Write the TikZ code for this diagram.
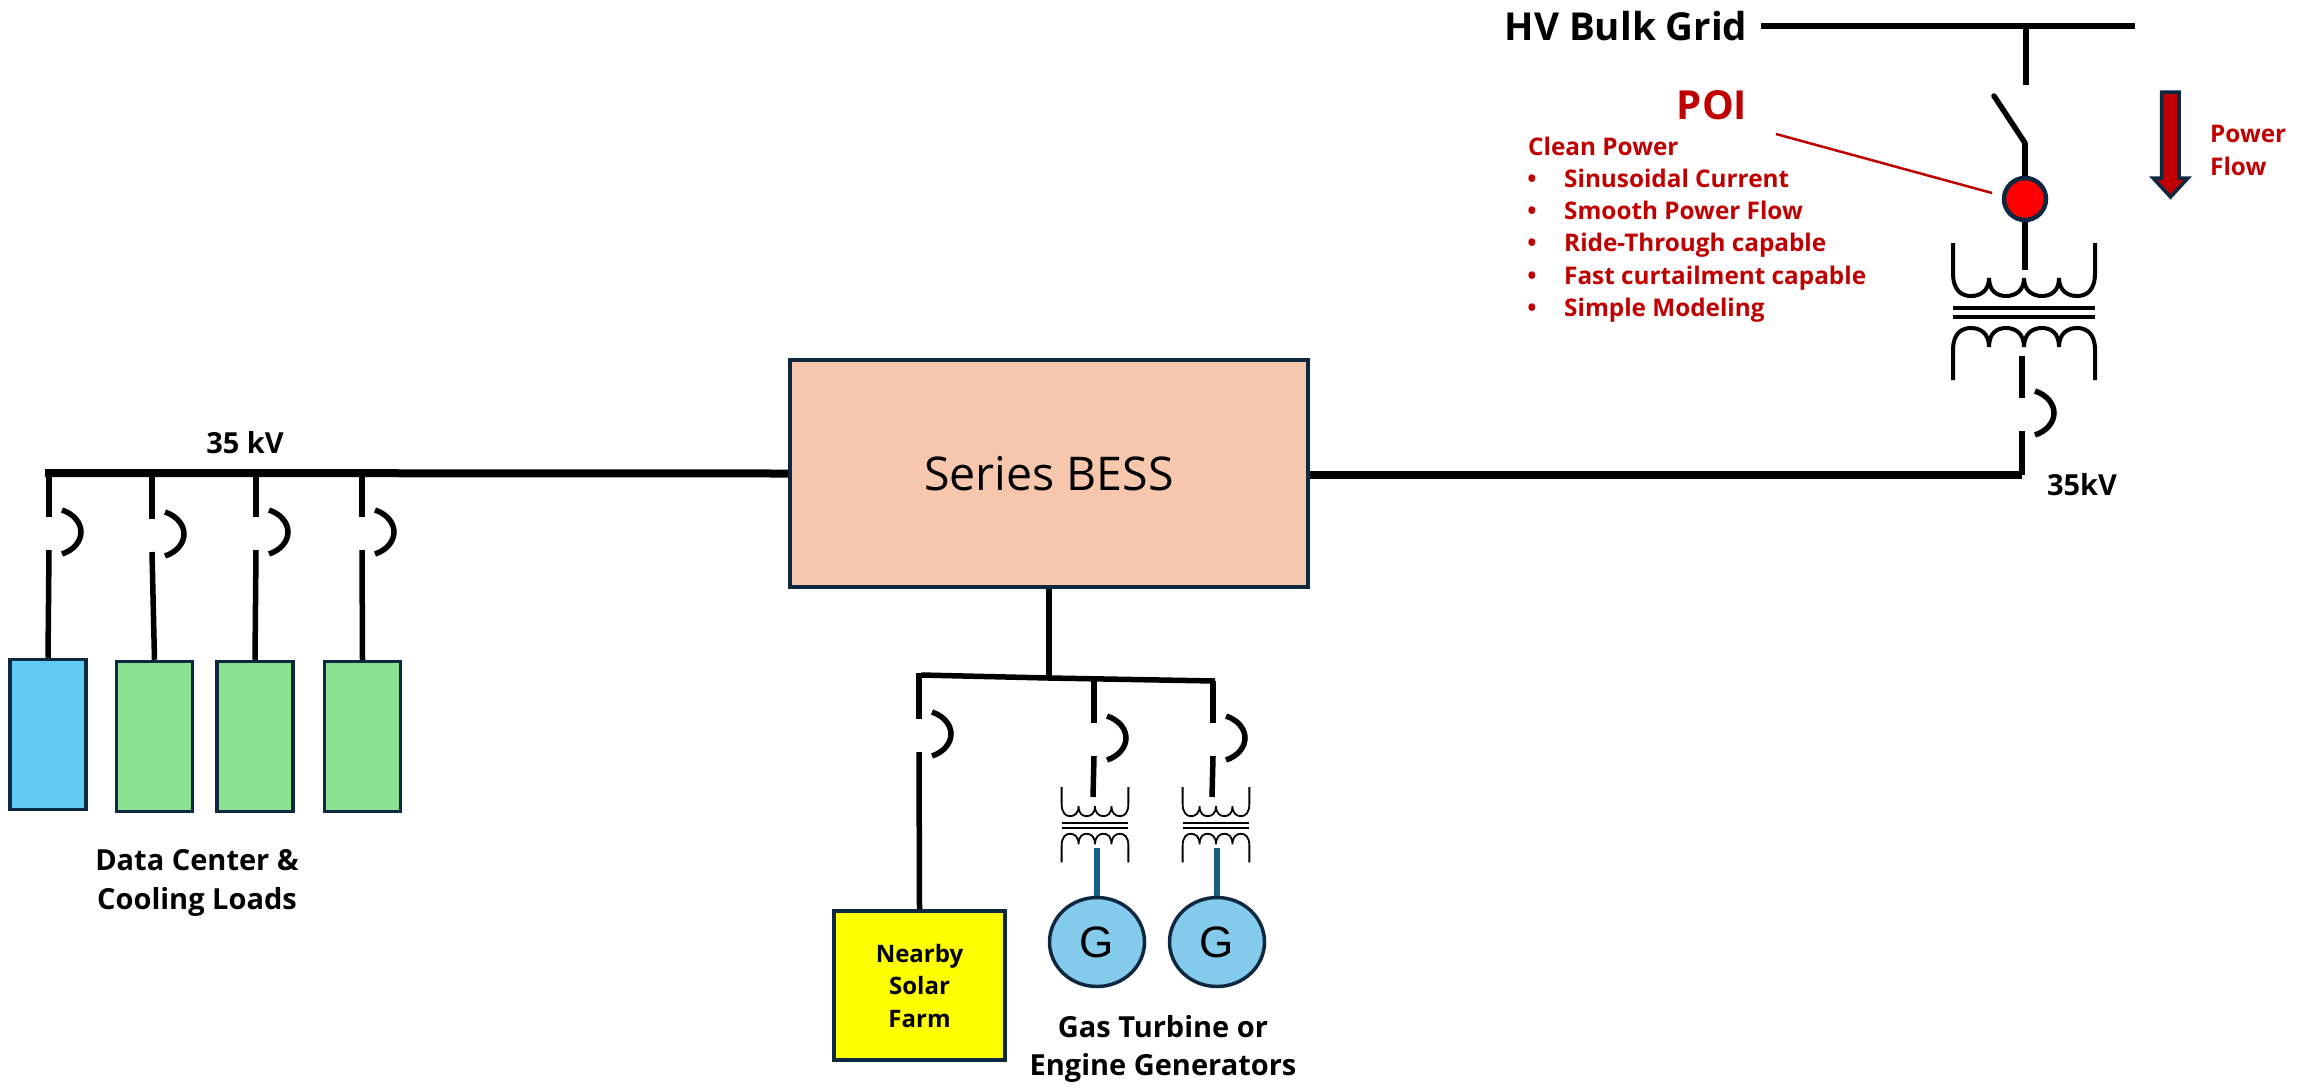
\documentclass[tikz,border=0pt]{standalone}
\usepackage{fontspec}
\setmainfont{Open Sans}
\newfontfamily\genfont{Liberation Sans}
\usetikzlibrary{positioning}
\usetikzlibrary{shapes.geometric}
\definecolor{navy}{HTML}{0E2841}
\definecolor{poired}{HTML}{C00000}
\definecolor{poidot}{HTML}{FF0000}
\definecolor{solarfill}{HTML}{FFFF00}
\definecolor{bessfill}{HTML}{F6C6AD}
\definecolor{loadblue}{HTML}{61CBF4}
\definecolor{loadgreen}{HTML}{88E28F}
\definecolor{genblue}{HTML}{83CAEB}
\definecolor{stemblue}{HTML}{156082}
\tikzset{
	busbar/.style={line width=8pt,black},
	wire/.style={line width=5.5pt,black},
	boxed/.style={draw=navy,line width=3.5pt,inner sep=0pt},
	loadbox/.style={boxed,minimum width=76pt,minimum height=150pt},
	genbox/.style={boxed,ellipse,fill=genblue,minimum width=95pt,minimum height=89pt,font=\genfont\fontsize{44}{44}\selectfont},
	tag/.style={inner sep=0pt,align=center,font=\bfseries\fontsize{29}{38.5}\selectfont},
	redtext/.style={inner sep=0pt,text=poired,font=\bfseries\fontsize{24.3}{33}\selectfont},
	breaker/.pic={
		\coordinate (-top) at (0,0);
		\coordinate (-bot) at (0,33);
		\draw[wire] (13,-7) .. controls (25,-3) and (32,6) .. (32,15) .. controls (32,24) and (25,33) .. (13,37);
	},
	xfmr/.pic={
		\draw (-71,0) -- (-71,30) .. controls (-71,48) and (-62,53) .. (-53,53) .. controls (-44,53) and (-35,48) .. (-35,35)
			.. controls (-35,48) and (-27,53) .. (-18,53) .. controls (-9,53) and (0,48) .. (0,35)
			.. controls (0,48) and (9,53) .. (18,53) .. controls (27,53) and (35,48) .. (35,35)
			.. controls (35,48) and (44,53) .. (53,53) .. controls (62,53) and (71,48) .. (71,30) -- (71,0);
		\draw (-71,65) -- (71,65);
		\draw (-71,74) -- (71,74);
		\draw (-71,137) -- (-71,107) .. controls (-71,90) and (-62,85) .. (-53,85) .. controls (-44,85) and (-35,90) .. (-35,104)
			.. controls (-35,90) and (-27,85) .. (-18,85) .. controls (-9,85) and (0,90) .. (0,104)
			.. controls (0,90) and (9,85) .. (18,85) .. controls (27,85) and (35,90) .. (35,104)
			.. controls (35,90) and (44,85) .. (53,85) .. controls (62,85) and (71,90) .. (71,107) -- (71,137);
	}
}
\begin{document}
\begin{tikzpicture}[x=1pt,y=-1pt]
\useasboundingbox (0,0) rectangle (2306,1088);
\node[boxed,fill=bessfill,minimum width=518pt,minimum height=227pt,font=\fontsize{46.5}{46.5}\selectfont] (bess) at (1049,473.5) {Series BESS};

\node[loadbox,fill=loadblue] (load1) at (48,734.5) {};
\foreach \i/\px in {2/154.5,3/255,4/362.5}
	\node[loadbox,fill=loadgreen] (load\i) at (\px,736.5) {};
\coordinate (busstart) at (45,473);
\draw[busbar] (busstart) -- (bess.west);
\foreach \i/\px/\py in {1/49/517,2/152/519,3/256/517,4/362/517} {
	\pic (brk\i) at (\px,\py) {breaker};
	\coordinate (tap\i) at (\px,473);
	\draw[wire] (tap\i) -- (brk\i-top);
	\draw[wire] (brk\i-bot) -- (load\i.north);
}

\coordinate (feedL) at (921,675);
\coordinate (feedM) at (1049,678);
\coordinate (feedR) at (1215,681);
\draw[wire] (feedL) -- (feedM) -- (feedR);
\draw[wire] (bess.south) -- (feedM);
\node[boxed,fill=solarfill,minimum width=171pt,minimum height=149pt,align=center,font=\bfseries\fontsize{24}{32.5}\selectfont] (solar) at (919.5,985.5) {Nearby\\Solar\\Farm};
\pic (brk5) at (919,719) {breaker};
\coordinate (tap5) at (919,673);
\draw[wire] (tap5) -- (brk5-top);
\draw[wire] (brk5-bot) -- (solar.north);
\foreach \i/\px/\py/\qx/\gx in {6/1094/679/1093/1097,7/1213/681/1212/1217} {
	\pic (brk\i) at (\px,723) {breaker};
	\coordinate (tap\i) at (\px,\py);
	\coordinate (xfin\i) at (\qx,797);
	\draw[wire] (tap\i) -- (brk\i-top);
	\draw[wire] (brk\i-bot) -- (xfin\i);
	\node[genbox] (gen\i) at (\gx,942) {G};
	\coordinate (xfout\i) at (\gx,848);
	\draw[line width=6pt,stemblue] (xfout\i) -- (gen\i.north);
}
\pic (xf6) [xscale=.47,yscale=.55,line width=1.8pt] at (1095,787) {xfmr};
\pic (xf7) [xscale=.47,yscale=.55,line width=1.8pt] at (1216,787) {xfmr};

\coordinate (gridL) at (1761,26);
\coordinate (gridR) at (2135,26);
\coordinate (gridT) at (2026,26);
\coordinate (swtop) at (2026,85);
\coordinate (blade) at (1994,96);
\coordinate (hinge) at (2025,143);
\coordinate (xfin) at (2025,270);
\draw[line width=6pt] (gridL) -- (gridR);
\draw[wire] (gridT) -- (swtop);
\node[draw=navy,line width=4.5pt,fill=poidot,circle,inner sep=0pt,minimum size=42pt] (poi) at (2025,199) {};
\draw[wire,line cap=round] (blade) -- (hinge);
\draw[wire] (hinge) -- (poi.north);
\draw[wire] (poi.south) -- (xfin);
\pic (xf0) [line width=4pt] at (2024,243) {xfmr};
\coordinate (xfout) at (2022,356);
\coordinate (busend) at (2022,475);
\pic (brk0) at (2022,398) {breaker};
\draw[wire] (xfout) -- (brk0-top);
\draw[wire] (brk0-bot) -- (busend);
\draw[busbar] (bess.east |- busend) -- (busend);

\coordinate (leadA) at (1776,134);
\coordinate (leadB) at (1992,193);
\draw[poired,line width=2.5pt] (leadA) -- (leadB);
\draw[draw=navy,line width=3.5pt,fill=poired] (2161.5,92) -- (2179,92) -- (2179,178) -- (2188,178) -- (2170.5,197) -- (2153,178) -- (2161.5,178) -- cycle;

\node[tag] (kvL) at (245,443) {35 kV};
\node[tag] (kvR) at (2082,485) {35kV};
\node[tag] (loads) at (197,883) {Data Center \&\\Cooling Loads};
\node[tag] (gens) at (1163,1049) {Gas Turbine or\\Engine Generators};
\node[inner sep=0pt,font=\bfseries\fontsize{38.5}{38.5}\selectfont] (grid) at (1626,26) {HV Bulk Grid};
\node[inner sep=0pt,text=poired,font=\bfseries\fontsize{40}{40}\selectfont] (poilabel) at (1712,105) {POI};
\node[redtext,anchor=base west] (clean) at (1528,155) {Clean Power};
\foreach \i/\py/\txt in {1/187/Sinusoidal Current,2/219/Smooth Power Flow,3/251/Ride-Through capable,4/284/Fast curtailment capable,5/316/Simple Modeling} {
	\node[redtext,anchor=base] (dot\i) at (1532,\py) {•};
	\node[redtext,anchor=base west] (item\i) at (1564,\py) {\txt};
}
\node[redtext,anchor=base west] (power) at (2210,142) {Power};
\node[redtext,anchor=base west] (flow) at (2210,175) {Flow};
\end{tikzpicture}
\end{document}
